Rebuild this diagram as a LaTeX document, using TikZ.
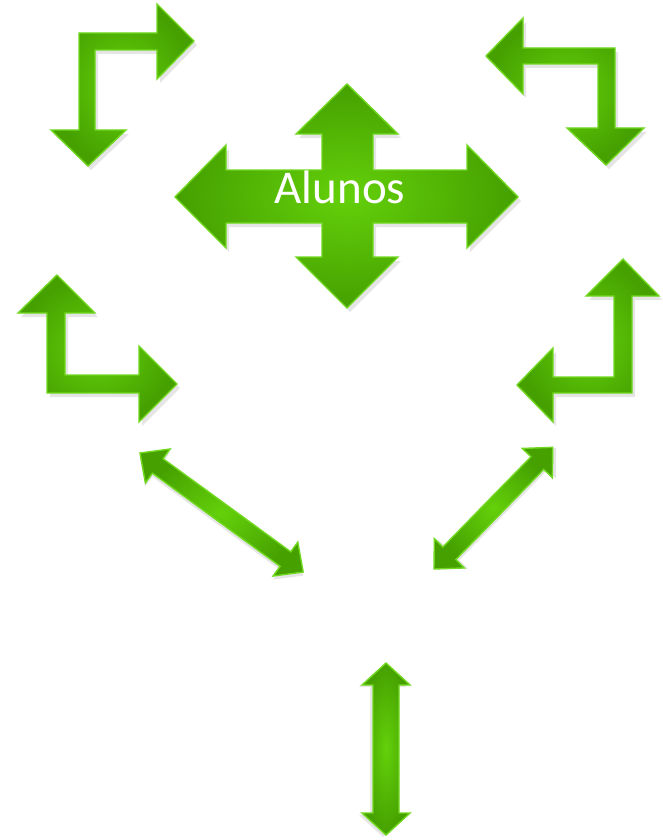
\documentclass[tikz,border=0pt]{standalone}
\usepackage{fontspec}
\setmainfont{Carlito}
\definecolor{gin}{HTML}{64D00A}
\definecolor{gout}{HTML}{45A000}
\definecolor{gedge}{HTML}{70D81E}
\tikzset{
  arrowshape/.style={inner color=gin, outer color=gout, draw=gedge, line width=1.4pt, line join=miter},
  shadowshape/.style={fill=black, opacity=0.10, draw=none}
}
\newcommand{\dblarrow}[7]{% shift x, shift y, angle, length, head length, head half width, shaft half width
  \begin{scope}[shift={(#1,#2)}, rotate=#3]
    \path[shadowshape] (2,3) -- (#5+2,-#6+3) -- (#5+2,-#7+3) -- (#4-#5+2,-#7+3) -- (#4-#5+2,-#6+3) -- (#4+2,3) -- (#4-#5+2,#6+3) -- (#4-#5+2,#7+3) -- (#5+2,#7+3) -- (#5+2,#6+3) -- cycle;
    \path[arrowshape] (0,0) -- (#5,-#6) -- (#5,-#7) -- (#4-#5,-#7) -- (#4-#5,-#6) -- (#4,0) -- (#4-#5,#6) -- (#4-#5,#7) -- (#5,#7) -- (#5,#6) -- cycle;
  \end{scope}}
\begin{document}
\begin{tikzpicture}[x=1pt,y=-1pt]
\useasboundingbox (0,0) rectangle (663,840);
\fill[white] (0,0) rectangle (663,840);

% top-left bent arrow
\path[shadowshape,shift={(3,4)}] (88,166) -- (126,130) -- (95,130) -- (95,50) -- (157,50) -- (157,79) -- (194,41) -- (157,4) -- (157,33) -- (79,33) -- (79,130) -- (51,130) -- cycle;
\path[arrowshape] (88,166) -- (126,130) -- (95,130) -- (95,50) -- (157,50) -- (157,79) -- (194,41) -- (157,4) -- (157,33) -- (79,33) -- (79,130) -- (51,130) -- cycle;

% top-right bent arrow
\path[shadowshape,shift={(3,4)}] (486,56) -- (523,18) -- (523,48) -- (615,48) -- (615,128) -- (644,128) -- (606,165) -- (567,128) -- (598,128) -- (598,64) -- (523,64) -- (523,94) -- cycle;
\path[arrowshape] (486,56) -- (523,18) -- (523,48) -- (615,48) -- (615,128) -- (644,128) -- (606,165) -- (567,128) -- (598,128) -- (598,64) -- (523,64) -- (523,94) -- cycle;

% central four-way arrow
\path[shadowshape,shift={(3,4)}] (347,84) -- (398,134) -- (373,134) -- (373,170) -- (467,170) -- (467,145) -- (518,197) -- (467,248) -- (467,223) -- (373,223) -- (373,257) -- (398,257) -- (347,308) -- (296,257) -- (322,257) -- (322,223) -- (226,223) -- (226,248) -- (175,197) -- (226,145) -- (226,170) -- (322,170) -- (322,134) -- (296,134) -- cycle;
\path[arrowshape] (347,84) -- (398,134) -- (373,134) -- (373,170) -- (467,170) -- (467,145) -- (518,197) -- (467,248) -- (467,223) -- (373,223) -- (373,257) -- (398,257) -- (347,308) -- (296,257) -- (322,257) -- (322,223) -- (226,223) -- (226,248) -- (175,197) -- (226,145) -- (226,170) -- (322,170) -- (322,134) -- (296,134) -- cycle;
\node[text=white, font=\fontsize{47}{52}\selectfont, anchor=base, inner sep=0pt] (alunos) at (340,203) {Alunos};

% middle-left bent arrow
\path[shadowshape,shift={(3,4)}] (57,275) -- (95,313) -- (65,313) -- (65,375) -- (139,375) -- (139,346) -- (177,384) -- (139,422) -- (139,393) -- (47,393) -- (47,313) -- (18,313) -- cycle;
\path[arrowshape] (57,275) -- (95,313) -- (65,313) -- (65,375) -- (139,375) -- (139,346) -- (177,384) -- (139,422) -- (139,393) -- (47,393) -- (47,313) -- (18,313) -- cycle;

% middle-right bent arrow
\path[shadowshape,shift={(3,4)}] (623,259) -- (659,296) -- (632,296) -- (632,393) -- (553,393) -- (553,422) -- (517,385) -- (553,348) -- (553,377) -- (614,377) -- (614,296) -- (586,296) -- cycle;
\path[arrowshape] (623,259) -- (659,296) -- (632,296) -- (632,393) -- (553,393) -- (553,422) -- (517,385) -- (553,348) -- (553,377) -- (614,377) -- (614,296) -- (586,296) -- cycle;

% diagonal double arrows
\dblarrow{140}{453}{-36.1}{202}{22}{21}{9}
\dblarrow{434}{569}{45.7}{170}{22}{21}{9}

% bottom vertical double arrow
\dblarrow{386}{663}{-90}{172}{22}{24}{13}
\end{tikzpicture}
\end{document}
